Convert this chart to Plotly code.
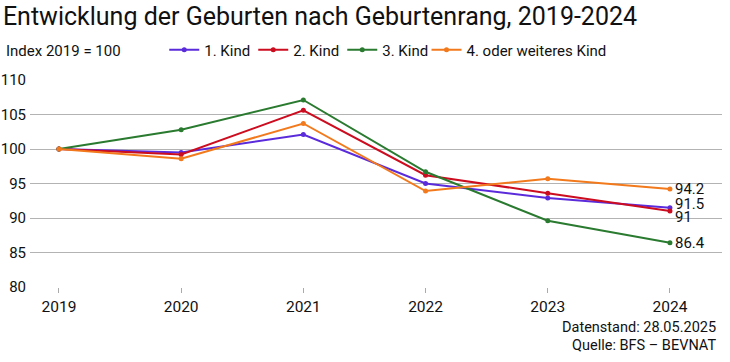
import plotly.graph_objects as go

years = [2019, 2020, 2021, 2022, 2023, 2024]
kind1 = [100, 99.5, 102.1, 95.0, 92.9, 91.5]
kind2 = [100, 99.2, 105.6, 96.2, 93.6, 91.0]
kind3 = [100, 102.8, 107.1, 96.7, 89.6, 86.4]
kind4 = [100, 98.6, 103.7, 93.9, 95.7, 94.2]
names = ["1. Kind", "2. Kind", "3. Kind", "4. oder weiteres Kind"]
colors = ["#5a2bdb", "#cc0c1f", "#2a7a30", "#f27a1c"]
legend_ids = ["legend", "legend", "legend", "legend2"]
label_shift = [4, -6, 0, 0]

fig = go.Figure()
series = [kind1, kind2, kind3, kind4]
for vals, nm, col, lg in zip(series, names, colors, legend_ids):
    fig.add_trace(go.Scatter(x=years, y=vals, name=nm, mode="lines+markers",
                             line=dict(color=col, width=2),
                             marker=dict(color=col, size=5), legend=lg))

annotations = []
for vals, sh in zip(series, label_shift):
    v = vals[-1]
    annotations.append(dict(x=years[-1], y=v, xref="x", yref="y", text=f"{v:g}",
                            showarrow=False, xanchor="left", yanchor="middle",
                            xshift=3, yshift=sh, font=dict(size=15, color="#111")))
annotations += [
    dict(x=-0.0376, y=1.14, xref="paper", yref="paper", text="Index 2019 = 100",
         showarrow=False, xanchor="left", yanchor="middle", font=dict(size=15, color="#111")),
    dict(x=0.994, y=0, xref="paper", yref="paper", yshift=-40, text="Datenstand: 28.05.2025",
         showarrow=False, xanchor="right", yanchor="middle", font=dict(size=14.5, color="#111")),
    dict(x=0.994, y=0, xref="paper", yref="paper", yshift=-58, text="Quelle: BFS – BEVNAT",
         showarrow=False, xanchor="right", yanchor="middle", font=dict(size=14.5, color="#111")),
]

fig.update_layout(
    width=730, height=362,
    margin=dict(l=30, r=8, t=80, b=75, autoexpand=False),
    paper_bgcolor="white", plot_bgcolor="white",
    font=dict(family="Roboto", size=15, color="#111"),
    title=dict(text="Entwicklung der Geburten nach Geburtenrang, 2019-2024",
               x=0.004, xanchor="left", xref="container",
               y=0.955, yanchor="middle", yref="container",
               font=dict(size=25, color="#111")),
    showlegend=True,
    legend=dict(orientation="h", x=0.194, xanchor="left", y=1.145, yanchor="middle",
                font=dict(size=15), itemwidth=30, tracegroupgap=0,
                entrywidth=44, entrywidthmode="pixels",
                bgcolor="rgba(0,0,0,0)"),
    legend2=dict(orientation="h", x=0.573, xanchor="left", y=1.145, yanchor="middle",
                 font=dict(size=15), itemwidth=30, tracegroupgap=0,
                 bgcolor="rgba(0,0,0,0)"),
    annotations=annotations,
)
fig.update_xaxes(range=[2018.763, 2024.426], tickmode="array", tickvals=years,
                 showgrid=False, zeroline=False, showline=False, automargin=False,
                 ticks="outside", ticklen=5, tickcolor="#aaa", tickfont=dict(size=15.5))
fig.update_yaxes(range=[80, 110], dtick=5, tick0=80, showgrid=True, gridcolor="#b3b3b3",
                 gridwidth=1, zeroline=False, showline=False, ticks="", ticklabelstandoff=3,
                 automargin=False, tickfont=dict(size=15))
fig.write_html("out.html", config={"displayModeBar": False},
               post_script="document.body.style.margin='0';document.body.style.padding='0';")
